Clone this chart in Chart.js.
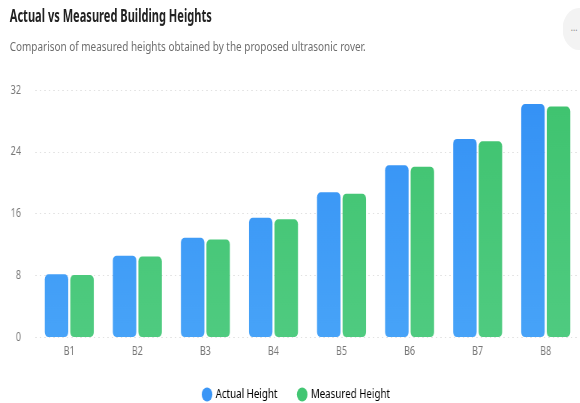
<!DOCTYPE html>
<html>
<head>
<meta charset="utf-8">
<script src="https://cdn.jsdelivr.net/npm/chart.js@4"></script>
<style>
  html, body { margin: 0; padding: 0; background: #fff; }
  body { width: 580px; height: 403px; position: relative; overflow: hidden; }
  /* the reference is horizontally squeezed, so draw wide and squeeze by 0.75 */
  #page { position: absolute; left: 0; top: 0; width: 773px; height: 420px; transform: scaleX(0.75); transform-origin: 0 0; font-family: 'Noto Sans', sans-serif; }
  #title { position: absolute; left: 13px; top: 4px; font-size: 17px; font-weight: bold; color: #222; white-space: nowrap; transform-origin: 0 0; }
  #subtitle { position: absolute; left: 13px; top: 37px; font-size: 13.3px; color: #6e6e6e; white-space: nowrap; transform-origin: 0 0; }
  #more { position: absolute; left: 750px; top: 8px; width: 44px; height: 42px; border-radius: 50%; background: #f3f3f3; color: #888; font-size: 11px; line-height: 38px; text-indent: 11px; }
  #wrap { position: absolute; left: 0; top: 64px; width: 773px; height: 351px; }
</style>
</head>
<body>
<div id="page">
  <div id="title">Actual vs Measured Building Heights</div>
  <div id="subtitle">Comparison of measured heights obtained by the proposed ultrasonic rover.</div>
  <div id="more">...</div>
  <div id="wrap"><canvas id="chart"></canvas></div>
</div>
<script>
// ==============================
// Data
// ==============================
const buildings = ['B1', 'B2', 'B3', 'B4', 'B5', 'B6', 'B7', 'B8'];
const actualHeight = [8.2, 10.6, 12.9, 15.5, 18.8, 22.3, 25.7, 30.2];
const measuredHeight = [8.1, 10.5, 12.7, 15.3, 18.6, 22.1, 25.4, 29.9];
const yTicks = [0, 8, 16, 24, 32];

const FONT = "'Noto Sans', sans-serif";

// squeeze header text to the widths seen in the picture
function fitWidth(id, target) {
    const el = document.getElementById(id);
    const w = el.getBoundingClientRect().width;
    el.style.transform = `scaleX(${target / w})`;
}
fitWidth('title', 202);
fitWidth('subtitle', 356);

// vertical gradient per series
function grad(top, bottom) {
    return ctx => {
        const area = ctx.chart.chartArea;
        if (!area) return top;
        const g = ctx.chart.ctx.createLinearGradient(0, area.top, 0, area.bottom);
        g.addColorStop(0, top);
        g.addColorStop(1, bottom);
        return g;
    };
}

// nudge the legend a bit (the original card was wider than the crop)
const legendShift = {
    id: 'legendShift',
    afterLayout(chart) {
        const lg = chart.legend;
        lg.left += 9; lg.right += 9;
        lg.top += 2; lg.bottom += 2;
    }
};

// ==============================
// Chart
// ==============================
new Chart(document.getElementById('chart'), {
    type: 'bar',
    data: {
        labels: buildings,
        datasets: [
            {
                label: 'Actual Height',
                data: actualHeight,
                backgroundColor: grad('#3491f5', '#47a3f8'),
                borderRadius: 5,
                borderSkipped: false,
                categoryPercentage: 0.75,
                barPercentage: 0.92
            },
            {
                label: 'Measured Height',
                data: measuredHeight,
                backgroundColor: grad('#3fc36f', '#4fcb80'),
                borderRadius: 5,
                borderSkipped: false,
                categoryPercentage: 0.75,
                barPercentage: 0.92
            }
        ]
    },
    options: {
        responsive: true,
        maintainAspectRatio: false,
        animation: false,
        layout: { padding: { top: 0, right: 0, bottom: 6, left: 0 } },
        plugins: {
            legend: {
                position: 'bottom',
                labels: {
                    usePointStyle: true,
                    pointStyle: 'circle',
                    boxWidth: 10,
                    boxHeight: 10,
                    padding: 28,
                    color: '#444',
                    font: { family: FONT, size: 13 },
                    generateLabels: chart => chart.data.datasets.map((ds, i) => ({
                        text: ds.label,
                        fillStyle: i === 0 ? '#3b96f6' : '#42c673',
                        strokeStyle: 'transparent',
                        lineWidth: 0,
                        pointStyle: 'circle',
                        datasetIndex: i
                    }))
                }
            },
            tooltip: { enabled: false }
        },
        scales: {
            x: {
                grid: { display: false },
                border: { display: false },
                ticks: { color: '#777', font: { family: FONT, size: 12 }, padding: -1 }
            },
            y: {
                min: 0,
                max: 32,
                afterFit: s => { s.width = 47; },
                afterBuildTicks: s => { s.ticks = yTicks.map(v => ({ value: v })); },
                grid: { color: '#e2e2e2', drawTicks: false },
                border: { display: false, dash: [2, 4] },
                ticks: { color: '#777', font: { family: FONT, size: 12 }, padding: 19 }
            }
        }
    },
    plugins: [legendShift]
});
</script>
</body>
</html>
